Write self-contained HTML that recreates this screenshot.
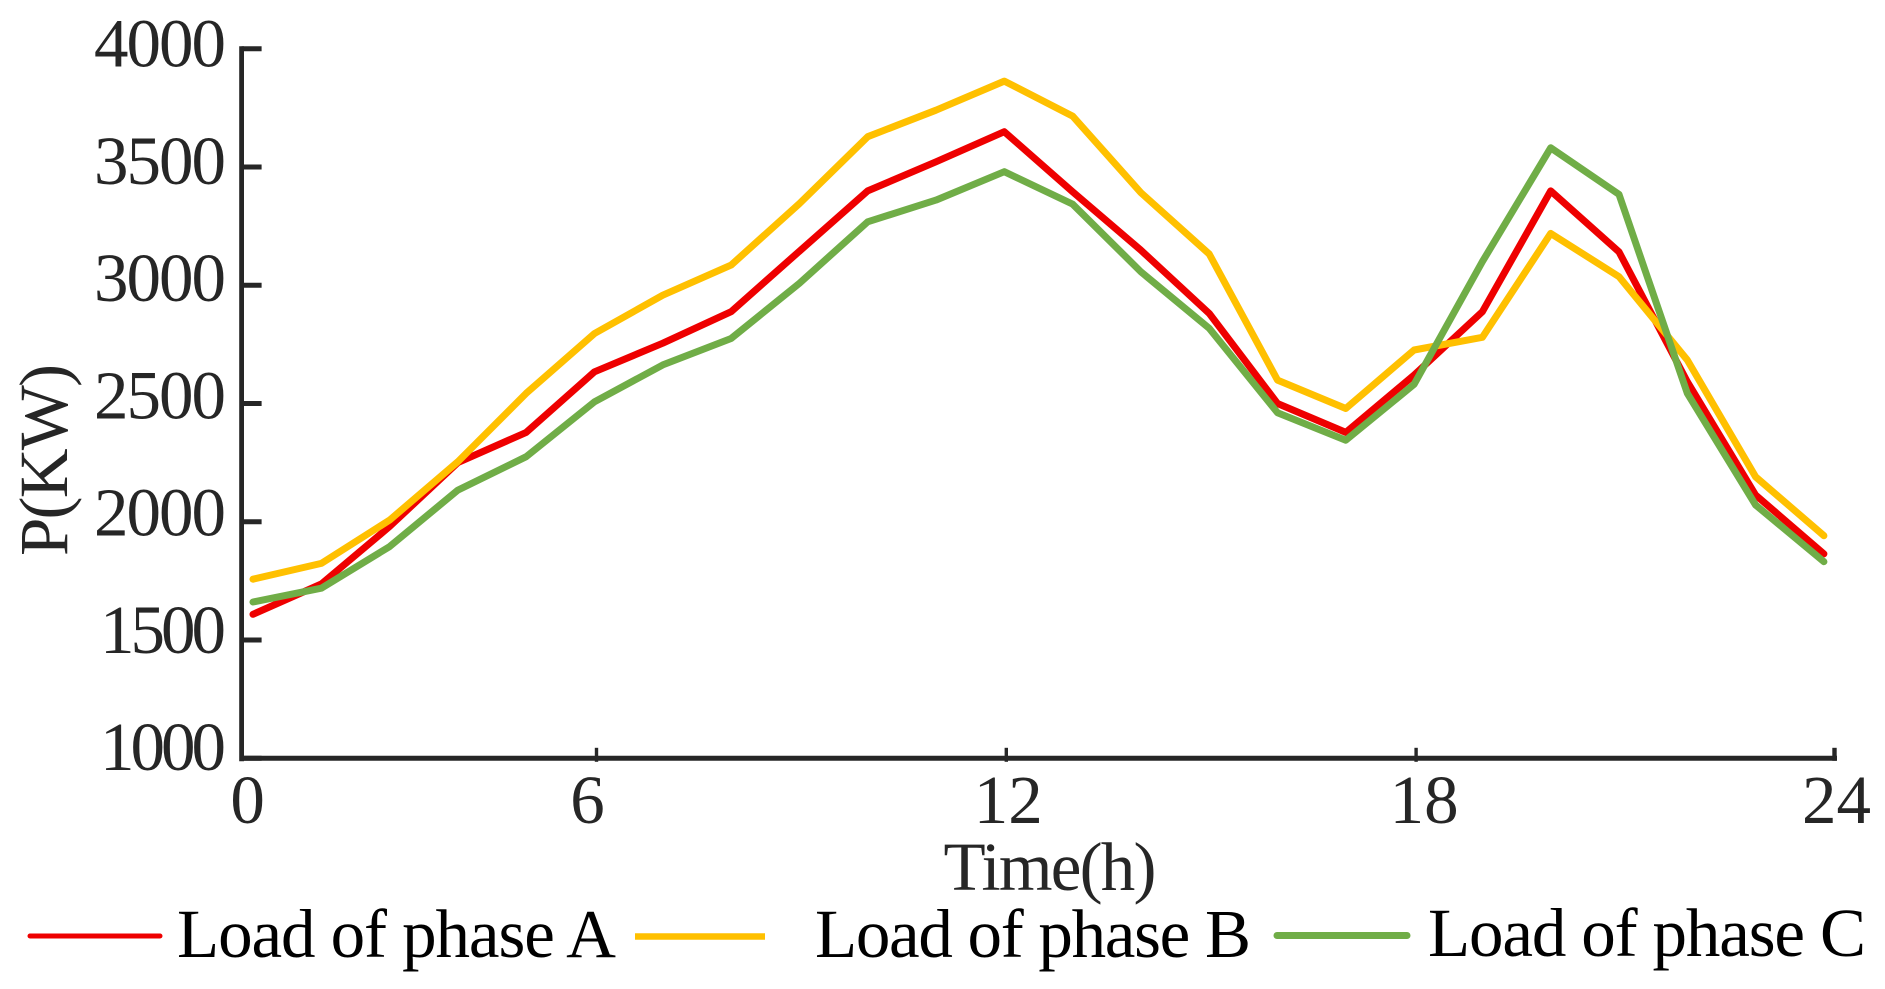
<!DOCTYPE html>
<html lang="en">
<head>
<meta charset="utf-8">
<title>Load of phases A, B and C over time</title>
<style>
  html, body { margin: 0; padding: 0; background: #fff; width: 1885px; height: 989px; overflow: hidden; }
  svg { display: block; }
  text { font-family: "Liberation Serif", "Times New Roman", serif; font-size: 69px; }
  .tick { fill: #262626; }
  .legend-text { fill: #000; }
</style>
</head>
<body>
<svg id="chart" width="1885" height="989" viewBox="0 0 1885 989" xmlns="http://www.w3.org/2000/svg">
  <g id="marks"></g>
  <g id="axes"></g>
  <text class="tick" x="1050" y="890" text-anchor="middle" textLength="213" lengthAdjust="spacing">Time(h)</text>
  <text class="tick" transform="translate(67 460) rotate(-90)" text-anchor="middle" textLength="192" lengthAdjust="spacing">P(KW)</text>

  <g>
    <line x1="30" y1="936" x2="160" y2="936" stroke="#EE0000" stroke-width="5" stroke-linecap="round"/>
    <text class="legend-text" x="177" y="957" textLength="439" lengthAdjust="spacing">Load of phase A</text>
    <line x1="635" y1="936.5" x2="765" y2="936.5" stroke="#FFC000" stroke-width="6.5" stroke-linecap="butt"/>
    <text class="legend-text" x="815" y="957" textLength="436" lengthAdjust="spacing">Load of phase B</text>
    <line x1="1277" y1="935.5" x2="1407" y2="935.5" stroke="#70AD47" stroke-width="7" stroke-linecap="round"/>
    <text class="legend-text" x="1428" y="956" textLength="438" lengthAdjust="spacing">Load of phase C</text>
  </g>
</svg>

<script>
const hours = [1,2,3,4,5,6,7,8,9,10,11,12,13,14,15,16,17,18,19,20,21,22,23,24];
const phaseA = [1609,1737,1980,2250,2378,2634,2755,2888,3144,3399,3522,3649,3395,3148,2881,2500,2378,2620,2888,3399,3141,2592,2113,1864];
const phaseB = [1757,1824,2007,2254,2543,2796,2958,3085,3345,3628,3740,3863,3715,3391,3132,2599,2479,2726,2780,3219,3036,2684,2190,1941];
const phaseC = [1661,1719,1895,2134,2275,2507,2663,2775,3008,3268,3360,3480,3343,3057,2818,2461,2345,2581,3100,3581,3384,2543,2071,1831];
const yTickValues = [1000,1500,2000,2500,3000,3500,4000];
const xTickHours = [0,6,12,18,24];

const NS = 'http://www.w3.org/2000/svg';
const axisLeft = 241.6, axisRight = 1836, axisBottom = 758.3;
const xData = h => 253 + (h - 1) * 68.3;
const yScale = v => 758.3 - (v - 1000) * (709.6 / 3000);
const yLabelBaseline = v => 66.7 + (4000 - v) * (703.3 / 3000);
const xTick = h => h <= 0 ? axisLeft : h >= 24 ? axisRight - 1.5 : xData(h) + 2;
const xLabelNudge = h => h === 0 ? 6 : h === 6 ? -9 : h === 12 ? 2 : h === 18 ? 8 : 2;

const axes = document.getElementById('axes');
const marks = document.getElementById('marks');

function line(x1, y1, x2, y2, w) {
  const el = document.createElementNS(NS, 'line');
  el.setAttribute('x1', x1);
  el.setAttribute('y1', y1);
  el.setAttribute('x2', x2);
  el.setAttribute('y2', y2);
  el.setAttribute('stroke', '#262626');
  el.setAttribute('stroke-width', w);
  return el;
}

const yAxis = line(axisLeft, yScale(4000) - 2.5, axisLeft, axisBottom + 3, 4.8);


axes.appendChild(yAxis);

const xAxis = line(axisLeft - 2, axisBottom, axisRight + 1, axisBottom, 5);


axes.appendChild(xAxis);

yTickValues.forEach(v => {
  const t = line(axisLeft, yScale(v), axisLeft + 20, yScale(v), 5);
  
  
  axes.appendChild(t);

  const label = document.createElementNS(NS, 'text');
  label.setAttribute('class', 'tick');
  label.setAttribute('x', 226);
  label.setAttribute('y', yLabelBaseline(v));
  label.setAttribute('text-anchor', 'end');
  label.setAttribute('textLength', v < 2000 ? 126 : 132);
  label.setAttribute('lengthAdjust', 'spacing');
  
  
  label.textContent = String(v);
  axes.appendChild(label);
});

xTickHours.forEach(h => {
  const x = xTick(h);
  if (h !== 0) {
    const t = line(x, axisBottom - 10.5, x, axisBottom + (h === 24 ? 2.5 : 3.5), h === 24 ? 4.4 : 3.4);
    
    
    axes.appendChild(t);
  }

  const label = document.createElementNS(NS, 'text');
  label.setAttribute('class', 'tick');
  label.setAttribute('x', x + xLabelNudge(h));
  label.setAttribute('y', 823);
  label.setAttribute('text-anchor', 'middle');
  
  
  label.textContent = String(h);
  axes.appendChild(label);
});

function drawSeries(values, color) {
  const path = document.createElementNS(NS, 'polyline');
  path.setAttribute('points', values.map((v, i) => xData(hours[i]).toFixed(1) + ',' + yScale(v).toFixed(1)).join(' '));
  path.setAttribute('fill', 'none');
  path.setAttribute('stroke', color);
  path.setAttribute('stroke-width', '7');
  path.setAttribute('stroke-linecap', 'round');
  path.setAttribute('stroke-linejoin', 'round');
  marks.appendChild(path);
  return path;
}

const lineA = drawSeries(phaseA, '#EE0000');



const lineB = drawSeries(phaseB, '#FFC000');



const lineC = drawSeries(phaseC, '#70AD47');


</script>
</body>
</html>
